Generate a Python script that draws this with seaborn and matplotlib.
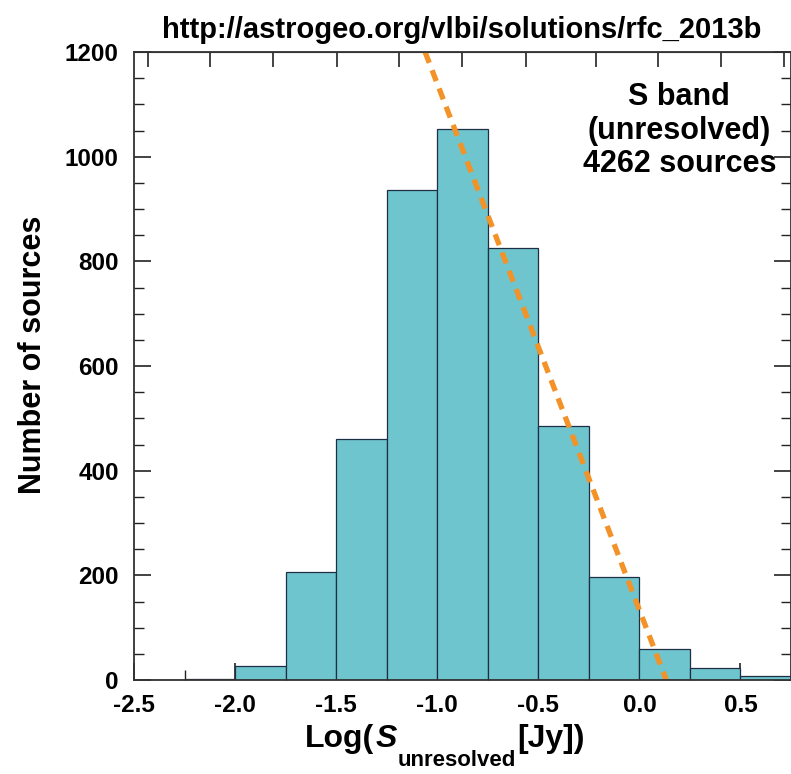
import numpy as np
import pandas as pd
import seaborn as sns
import matplotlib.pyplot as plt
from matplotlib.ticker import MultipleLocator, FixedLocator

# histogram of log flux density (S band, unresolved)
bin_edges = [-2.5, -2.25, -2.0, -1.75, -1.5, -1.25, -1.0, -0.75, -0.5, -0.25, 0.0, 0.25, 0.5, 0.75]
counts = [0, 2, 27, 206, 460, 936, 1053, 825, 485, 196, 59, 23, 8]

# dashed fit line (two ends)
fit_x = [-1.06, 0.133]
fit_y = [1200, 0]

top_ticks = [-2.433, -2.123, -1.813, -1.498, -1.188, -0.877, -0.562, -0.217, 0.093, 0.404, 0.714]

sns.set_style("ticks")
plt.rcParams['font.family'] = ['Liberation Sans', 'DejaVu Sans']
plt.rcParams['font.weight'] = 'bold'
plt.rcParams['text.color'] = 'black'
plt.rcParams['xtick.color'] = '#222222'
plt.rcParams['ytick.color'] = '#222222'
plt.rcParams['xtick.labelcolor'] = 'black'
plt.rcParams['ytick.labelcolor'] = 'black'

W, H = 791, 774
fig = plt.figure(figsize=(W / 100, H / 100), dpi=100)
ax = fig.add_axes([134 / W, 1 - 680 / H, 657 / W, 628 / H])

centers = [(bin_edges[i] + bin_edges[i + 1]) / 2 for i in range(len(counts))]
df = pd.DataFrame({"logS": centers, "n": counts})
sns.histplot(data=df, x="logS", weights="n", bins=bin_edges, ax=ax,
             color="#6ec5ce", alpha=1, edgecolor="#1e2e44", linewidth=0.9)

line_df = pd.DataFrame({"x": fit_x, "y": fit_y})
sns.lineplot(data=line_df, x="x", y="y", ax=ax, color="#f39227", linewidth=3.8,
             linestyle=(0, (2.2, 1.5)))

ax.set_xlim(-2.5, 0.75)
ax.set_ylim(0, 1200)
ax.xaxis.set_major_locator(MultipleLocator(0.5))
ax.xaxis.set_minor_locator(MultipleLocator(0.25))
ax.yaxis.set_major_locator(MultipleLocator(200))
ax.yaxis.set_minor_locator(MultipleLocator(50))
ax.xaxis.set_major_formatter(plt.FuncFormatter(lambda v, p: f"{v:.1f}"))
ax.tick_params(axis="both", which="both", direction="in", labelsize=17.5, right=True)
ax.tick_params(axis="both", which="major", length=12, width=1.2)
ax.tick_params(axis="both", which="minor", length=7, width=1)
ax.tick_params(axis="x", which="both", top=False, pad=10)
ax.tick_params(axis="y", which="both", pad=11)
for s in ax.spines.values():
    s.set_linewidth(1.3)
    s.set_color("#333333")

sec = ax.secondary_xaxis("top")
sec.xaxis.set_major_locator(FixedLocator(top_ticks))
sec.tick_params(direction="in", length=11, width=1.2, labeltop=False)
sec.spines["top"].set_color("#333333")

ax.set_xlabel("")
ax.set_ylabel("")
fig.text(33 / W, 1 - 355 / H, "Number of sources", rotation=90, ha="center", va="center",
         fontsize=22, fontweight="bold")

# x label built piecewise: Log(S, low subscript, [Jy])
renderer = fig.canvas.get_renderer()
xpos = 305
base = 747
pieces = [("Log(", 23, "normal", 0), ("S", 23, "italic", 0),
          ("unresolved", 16, "normal", 19), ("[Jy])", 23, "normal", 0)]
for txt, size, style, drop in pieces:
    t = fig.text(xpos / W, 1 - (base + drop) / H, txt, fontsize=size, fontweight="bold",
                 style=style, ha="left", va="baseline")
    xpos += t.get_window_extent(renderer=renderer).width + 1

ax.text(0.83, 0.952, "S band\n(unresolved)\n4262 sources", transform=ax.transAxes,
        ha="center", va="top", fontsize=22, fontweight="bold", linespacing=1.15)

fig.text(462 / W, 1 - 30 / H, "http://astrogeo.org/vlbi/solutions/rfc_2013b", ha="center",
         va="center", fontsize=21, fontweight="bold")

fig.savefig("out.png", dpi=100)
